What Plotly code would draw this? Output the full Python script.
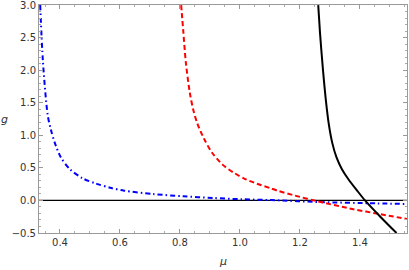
import plotly.graph_objects as go

blue_mu = [0.334, 0.343, 0.359, 0.370, 0.383, 0.403, 0.433, 0.475, 0.52, 0.567, 0.614, 0.71, 0.811, 0.911, 1.006, 1.106, 1.267, 1.456, 1.557]
blue_g = [3.0, 2.14, 1.31, 1.08, 0.88, 0.66, 0.48, 0.34, 0.26, 0.195, 0.15, 0.098, 0.064, 0.038, 0.018, 0.005, -0.025, -0.045, -0.055]

red_mu = [0.804, 0.811, 0.82, 0.833, 0.845, 0.858, 0.88, 0.906, 0.942, 0.978, 1.022, 1.067, 1.1, 1.125, 1.183, 1.256, 1.378, 1.467, 1.557]
red_g = [3.0, 2.6, 2.1, 1.65, 1.38, 1.18, 0.95, 0.74, 0.55, 0.43, 0.32, 0.24, 0.19, 0.15, 0.075, -0.01, -0.135, -0.21, -0.285]

black_mu = [1.261, 1.267, 1.276, 1.286, 1.296, 1.308, 1.322, 1.34, 1.361, 1.39, 1.417, 1.468, 1.522]
black_g = [3.0, 2.57, 2.05, 1.56, 1.18, 0.88, 0.66, 0.48, 0.33, 0.155, 0.0, -0.25, -0.5]

x_range = [0.33, 1.557]
y_range = [-0.5, 3.0]
x_ticks = [0.4, 0.6, 0.8, 1.0, 1.2, 1.4]
y_ticks = [-0.5, 0.0, 0.5, 1.0, 1.5, 2.0, 2.5, 3.0]

fig = go.Figure()
fig.add_trace(go.Scatter(x=x_range, y=[0, 0], mode="lines",
                         line=dict(color="black", width=1.3), hoverinfo="skip"))
fig.add_trace(go.Scatter(x=blue_mu, y=blue_g, mode="lines",
                         line=dict(color="#0000ff", width=2, dash="5px,3px,1.5px,3px", shape="spline", smoothing=0.8)))
fig.add_trace(go.Scatter(x=red_mu, y=red_g, mode="lines",
                         line=dict(color="#ff0000", width=2, dash="5px,3px", shape="spline", smoothing=0.8)))
fig.add_trace(go.Scatter(x=black_mu, y=black_g, mode="lines",
                         line=dict(color="black", width=2, shape="spline", smoothing=0.8)))

axis_common = dict(showgrid=False, zeroline=False, showline=True, linecolor="#999999", linewidth=1,
                   mirror="ticks", ticks="inside", ticklen=4, tickcolor="#999999", tickwidth=1,
                   automargin=False, ticklabeloverflow="allow",
                   tickfont=dict(family="DejaVu Sans", size=10, color="#333333"))

fig.update_xaxes(range=[x_range[0], x_range[1]], tickvals=x_ticks, ticktext=[f"{v:.1f}" for v in x_ticks],
                 minor=dict(dtick=0.05, tick0=0.0, ticks="inside", ticklen=2, tickcolor="#aaaaaa"),
                 **axis_common)
fig.update_yaxes(range=[y_range[0], y_range[1] + 0.001], tickvals=y_ticks,
                 ticktext=[("\u2212" + f"{abs(v):.1f}") if v < 0 else f"{v:.1f}" for v in y_ticks],
                 minor=dict(dtick=0.1, tick0=0.0, ticks="inside", ticklen=2, tickcolor="#aaaaaa"),
                 **axis_common)

fig.add_annotation(text="<i>μ</i>", xref="paper", yref="paper", x=0.5, y=-0.125, yanchor="middle",
                   showarrow=False, font=dict(family="DejaVu Sans", size=11, color="#333333"))
fig.add_annotation(text="<i>g</i>", xref="paper", yref="paper", x=-0.095, y=0.5, xanchor="center",
                   showarrow=False, font=dict(family="DejaVu Sans", size=11, color="#333333"))

fig.update_layout(width=409, height=270, margin=dict(l=39, r=2, t=5, b=37, autoexpand=False),
                  plot_bgcolor="white", paper_bgcolor="white", showlegend=False)

fig.write_html("out.html", config={"displayModeBar": False},
               post_script="document.body.style.margin='0';document.body.style.padding='0';")
